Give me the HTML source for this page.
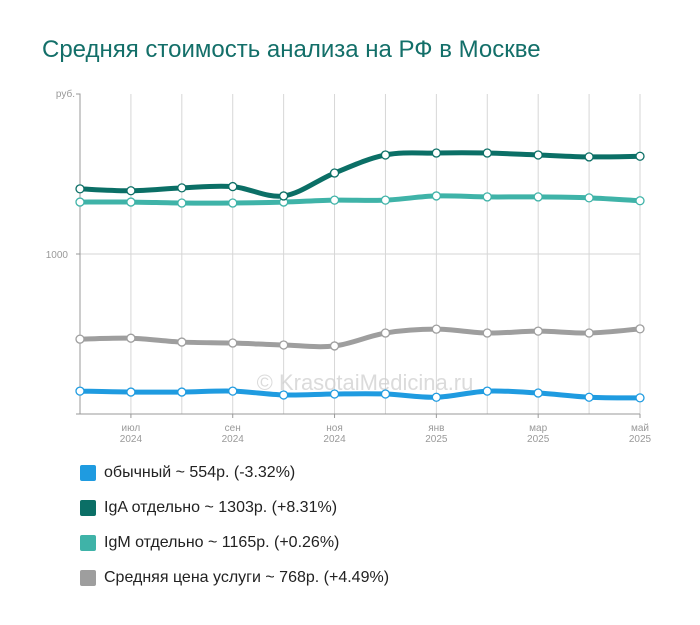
<!DOCTYPE html>
<html><head><meta charset="utf-8"><style>
body{margin:0;background:#fff;width:700px;height:625px;overflow:hidden;font-family:"Liberation Sans",sans-serif}
.title{position:absolute;left:42px;top:36px;font-size:24px;color:#136f69}
.leg{position:absolute;left:80px;font-size:16px;color:#222;display:flex;align-items:center}
.leg i{display:inline-block;width:16px;height:16px;border-radius:2px;margin-right:8px}
</style></head><body>
<div class="title">Средняя стоимость анализа на РФ в Москве</div>
<svg id="c" width="700" height="450" style="position:absolute;left:0;top:0"></svg>
<div class="leg" style="top:464px"><i style="background:#1f9be0"></i>обычный ~ 554р. (-3.32%)</div>
<div class="leg" style="top:499px"><i style="background:#0b6f66"></i>IgA отдельно ~ 1303р. (+8.31%)</div>
<div class="leg" style="top:534px"><i style="background:#3fb3a8"></i>IgM отдельно ~ 1165р. (+0.26%)</div>
<div class="leg" style="top:569px"><i style="background:#9e9e9e"></i>Средняя цена услуги ~ 768р. (+4.49%)</div>
<script>
const months=["","июл","","сен","","ноя","","янв","","мар","","май"];
const years=["","2024","","2024","","2024","","2025","","2025","","2025"];
const seriesNames=["average","regular","igm","iga"];
const avgValues=[736,739,727,724,718,715,755,767,755,761,755,768];
const regularValues=[575,572,572,575,563,566,566,556,575,569,556,554];
const igmValues=[1161,1161,1158,1158,1161,1167,1167,1180,1177,1177,1174,1165];
const igaValues=[1202,1196,1205,1209,1180,1251,1307,1313,1313,1307,1301,1303];
const yTicks=[1000];
const svg=document.getElementById('c');const NS='http://www.w3.org/2000/svg';
const X0=80,X1=640,Y0=414,Y1=94,VMIN=504,VMAX=1496;
const xs=i=>X0+(X1-X0)*i/(months.length-1);
const ys=v=>Y0-(v-VMIN)/(VMAX-VMIN)*(Y0-Y1);
function mk(t,a){const e=document.createElementNS(NS,t);for(const k in a)e.setAttribute(k,a[k]);svg.appendChild(e);return e;}
for(let i=1;i<months.length;i++){const g=mk('line',{x1:xs(i),x2:xs(i),y1:Y1,y2:Y0,stroke:'#d6d6d6'});

if(months[i]){const t=mk('text',{x:xs(i),y:Y0+17,'text-anchor':'middle','font-size':10,fill:'#999'});t.textContent=months[i];

const t2=mk('text',{x:xs(i),y:Y0+28,'text-anchor':'middle','font-size':10,fill:'#999'});t2.textContent=years[i];

mk('line',{x1:xs(i),x2:xs(i),y1:Y0,y2:Y0+4,stroke:'#999'});}}
yTicks.forEach(v=>{const g=mk('line',{x1:X0,x2:X1,y1:ys(v),y2:ys(v),stroke:'#d6d6d6'});

const t=mk('text',{x:X0-12,y:ys(v)+4,'text-anchor':'end','font-size':10,fill:'#999'});t.textContent=v;

mk('line',{x1:X0-4,x2:X0,y1:ys(v),y2:ys(v),stroke:'#999'});});
mk('path',{d:`M${X0-4} ${Y1}H${X0}V${Y0}H${X1}`,fill:'none',stroke:'#999'});
mk('line',{x1:X0-4,x2:X0,y1:Y0,y2:Y0,stroke:'#999'});
const yl=mk('text',{x:X0-5,y:Y1+3,'text-anchor':'end','font-size':10,fill:'#999'});yl.textContent='руб.';

const wm=mk('text',{x:365,y:390,'text-anchor':'middle','font-size':22,fill:'#ccc','fill-opacity':0.7});wm.textContent='© KrasotaiMedicina.ru';

function path(vals){const p=vals.map((v,i)=>[xs(i),ys(v)]);let d=`M${p[0][0]} ${p[0][1]}`;
for(let i=0;i<p.length-1;i++){const a=p[Math.max(0,i-1)],b=p[i],c=p[i+1],e=p[Math.min(p.length-1,i+2)];
const c1=[b[0]+(c[0]-a[0])/6,b[1]+(c[1]-a[1])/6],c2=[c[0]-(e[0]-b[0])/6,c[1]-(e[1]-b[1])/6];
d+=`C${c1[0]} ${c1[1]} ${c2[0]} ${c2[1]} ${c[0]} ${c[1]}`;}return d;}
[[avgValues,'#9e9e9e','series-average'],[regularValues,'#1f9be0','series-regular'],[igmValues,'#3fb3a8','series-igm'],[igaValues,'#0b6f66','series-iga']].forEach(([vals,col,name])=>{
const l=mk('path',{d:path(vals),fill:'none',stroke:col,'stroke-width':5,'stroke-linecap':'round'});

vals.forEach((v,i)=>{const c=mk('circle',{cx:xs(i),cy:ys(v),r:4,fill:'#fff',stroke:col,'stroke-width':1.3});
});});
</script>
</body></html>
